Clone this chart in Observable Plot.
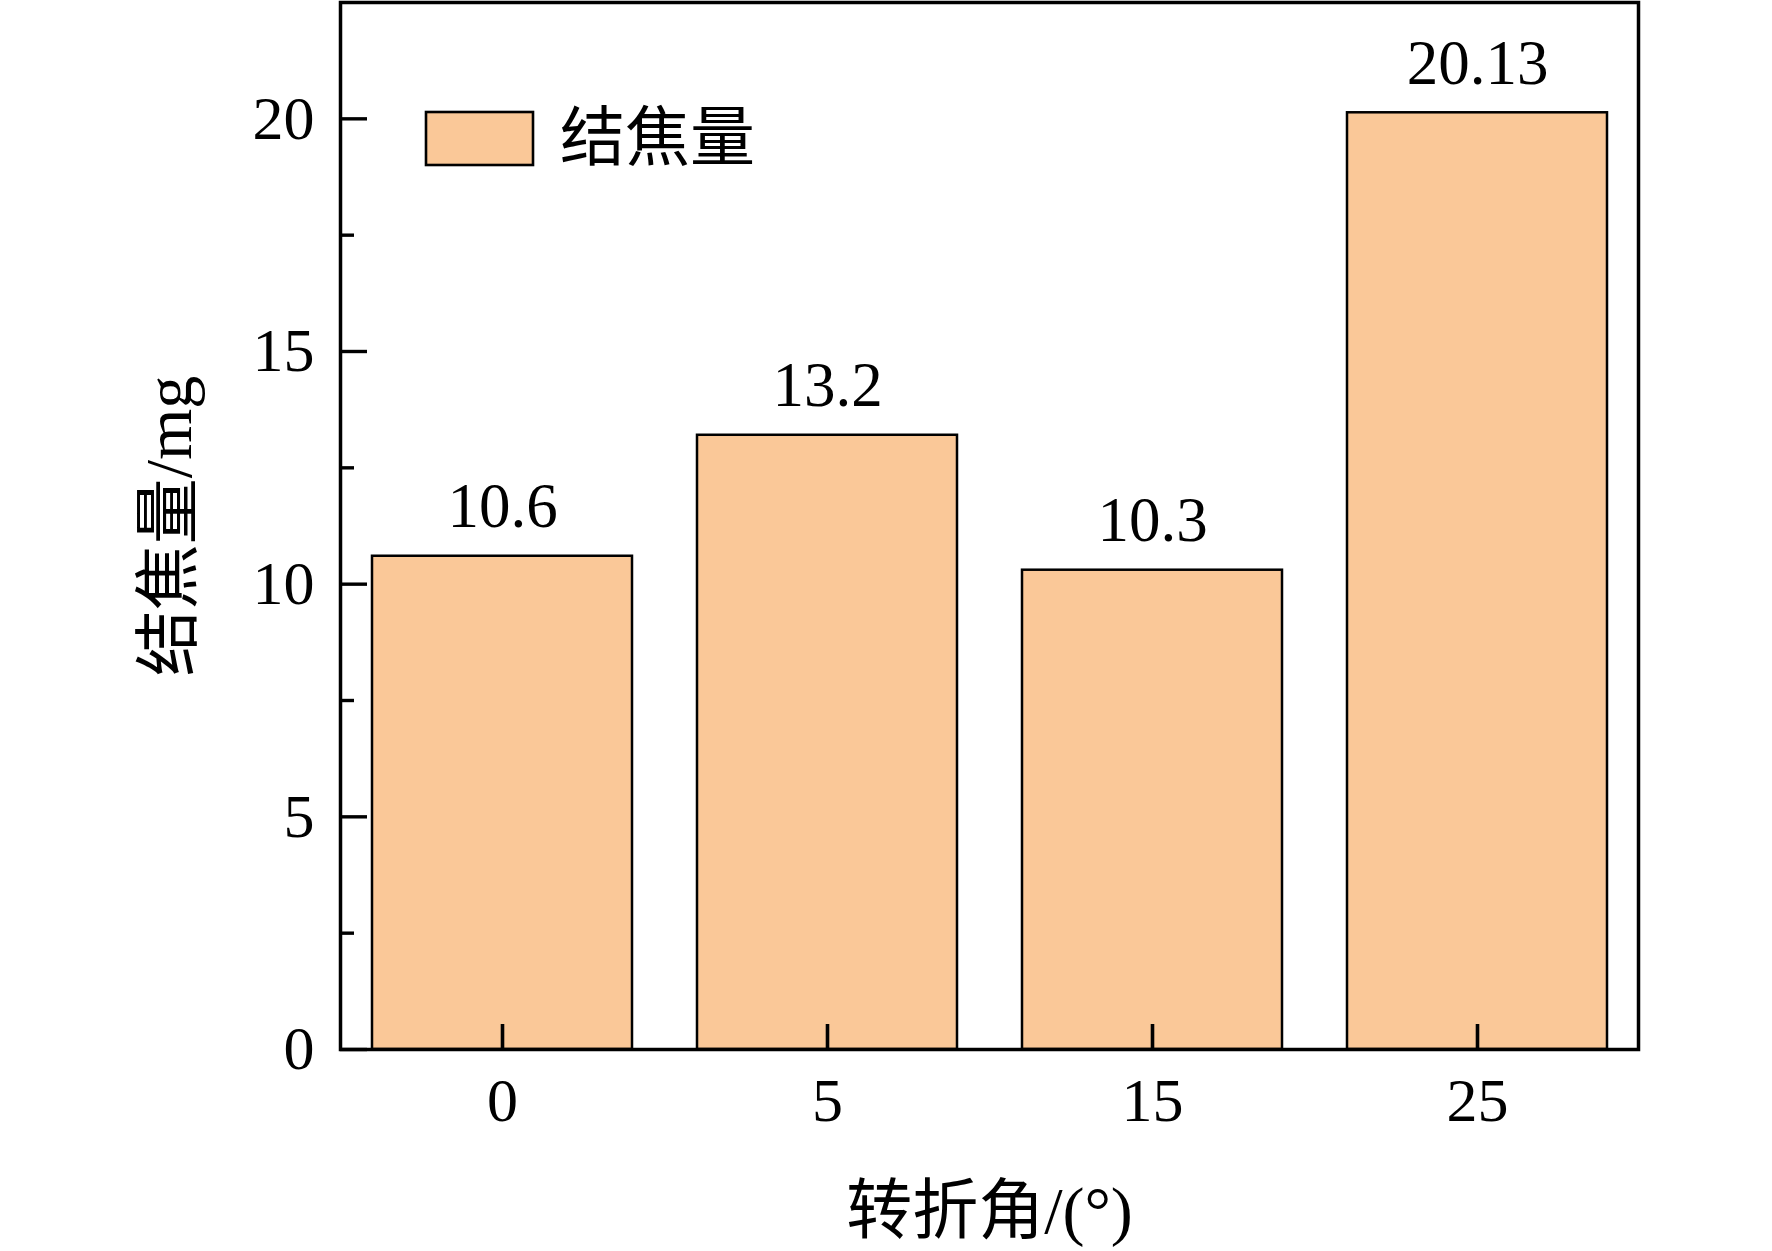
<!DOCTYPE html>
<html><head><meta charset="utf-8">
<script src="https://cdn.jsdelivr.net/npm/d3@7"></script>
<script src="https://cdn.jsdelivr.net/npm/@observablehq/plot@0.6"></script>
<style>
html,body{margin:0;padding:0;background:#fff;overflow:hidden}
#wrap{position:relative;width:1772px;height:1251px}
#legend{position:absolute;left:426px;top:112px}
#legend div{font-family:"Liberation Serif","Noto Sans CJK SC",serif;font-size:65px;line-height:53px;color:#000;margin:0;min-height:0}
#legend span{margin:0}
#legend svg{margin-right:27px;overflow:visible}
#legend svg rect{stroke:#000;stroke-width:2.6px}
</style></head><body><div id="wrap"></div>
<script>
const angles = ["0", "5", "15", "25"];
const coking = [10.6, 13.2, 10.3, 20.13];
const valueLabels = ["10.6", "13.2", "10.3", "20.13"];
const yTicks = [0, 5, 10, 15, 20];
const yMinorTicks = [2.5, 7.5, 12.5, 17.5];
const seriesName = "结焦量";
const xTitle = "转折角/(°)";
const yTitle = "结焦量/mg";
const barColor = "#FAC898";

const data = angles.map((a, i) => ({angle: a, value: coking[i], label: valueLabels[i], series: seriesName}));
const font = `"Liberation Serif","Times New Roman","Noto Sans CJK SC",serif`;
const blank = () => "";

const chart = Plot.plot({
  width: 1772, height: 1251,
  marginLeft: 340, marginRight: 134, marginTop: 2, marginBottom: 202,
  style: {fontFamily: font, fontSize: "62px", background: "#fff", color: "#000", overflow: "visible"},
  x: {type: "band", domain: angles, paddingInner: 0.2, paddingOuter: 0.095, label: null},
  y: {domain: [0, 22.5], label: null},
  color: {type: "ordinal", domain: [seriesName], range: [barColor]},
  marks: [
    Plot.barY(data, {x: "angle", y: "value", fill: "series", stroke: "#000", strokeWidth: 2.5}),
    Plot.text(data, {x: "angle", y: "value", text: "label", dy: -29, lineAnchor: "bottom", textAnchor: "middle", fontSize: 63, fill: "#000"}),
    Plot.axisY(yTicks, {tickSize: 0, tickPadding: 26, fontSize: 62, fill: "#000"}),
    Plot.axisY(yTicks, {tickSize: -27, tickFormat: blank, strokeWidth: 3.4, stroke: "#000"}),
    Plot.axisY(yMinorTicks, {tickSize: -14, tickFormat: blank, strokeWidth: 3.4, stroke: "#000"}),
    Plot.axisX(angles, {tickSize: 0, tickPadding: 27, fontSize: 62, fill: "#000"}),
    Plot.axisX(angles, {tickSize: -25, tickFormat: blank, strokeWidth: 3.6, stroke: "#000"}),
    Plot.frame({stroke: "#000", strokeWidth: 3.5}),
    Plot.text([xTitle], {frameAnchor: "bottom", dy: 183, lineAnchor: "bottom", textAnchor: "middle", fontSize: 66, fill: "#000"}),
    Plot.text([yTitle], {frameAnchor: "left", dx: -150, rotate: -90, lineAnchor: "bottom", textAnchor: "middle", fontSize: 66, fill: "#000"})
  ]
});

const wrap = document.getElementById("wrap");
wrap.appendChild(chart);
const legend = chart.legend("color", {legend: "swatches", swatchWidth: 107, swatchHeight: 53});
const lg = document.createElement("div");
lg.id = "legend";
lg.appendChild(legend);
wrap.appendChild(lg);
</script>
</body></html>
